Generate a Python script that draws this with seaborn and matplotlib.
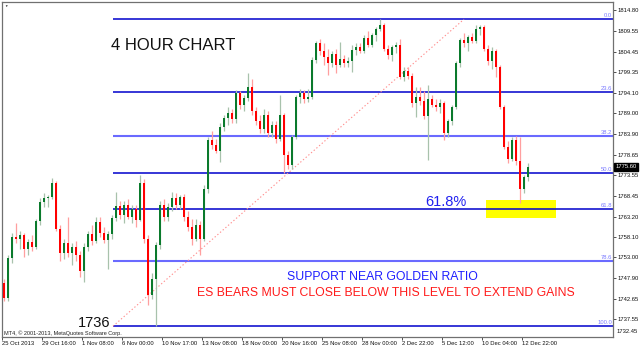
import matplotlib
matplotlib.use("Agg")
import matplotlib.pyplot as plt
import matplotlib.transforms as mtransforms
from matplotlib.patches import Rectangle
import seaborn as sns
import pandas as pd

# ---------------- data ----------------
opens = [1746.5, 1742.8, 1752.8, 1758.2, 1757.5, 1758.5, 1755.2, 1756.8, 1755.5, 1762.0,
         1766.8, 1767.8, 1768.2, 1771.5, 1760.2, 1754.0, 1756.5, 1754.0, 1755.5, 1753.5,
         1749.5, 1755.5, 1758.8, 1757.2, 1761.8, 1759.0, 1757.4, 1758.8, 1762.8, 1765.8,
         1763.5, 1766.2, 1763.2, 1765.0, 1762.4, 1771.6, 1757.6, 1743.6, 1747.5, 1756.0,
         1766.2, 1763.0, 1765.5, 1767.8, 1766.0, 1768.0, 1763.0, 1760.5, 1757.5, 1761.0,
         1757.5, 1770.0, 1782.4, 1781.0, 1779.5, 1785.5, 1787.8, 1789.2, 1787.5, 1794.0,
         1791.0, 1792.8, 1795.6, 1789.5, 1787.0, 1785.0, 1788.5, 1784.0, 1786.0, 1782.5,
         1788.6, 1778.6, 1776.0, 1783.1, 1793.0, 1794.2, 1792.5, 1793.0, 1802.4, 1806.6,
         1804.5, 1803.0, 1801.5, 1803.8, 1801.2, 1802.5, 1801.5, 1802.2, 1804.8, 1805.6,
         1804.5, 1807.8, 1806.2, 1808.5, 1810.0, 1811.0, 1805.0, 1803.5, 1805.5, 1806.2,
         1798.1, 1799.6, 1798.3, 1791.6, 1793.0, 1792.0, 1788.3, 1792.5, 1791.0, 1790.5,
         1791.5, 1784.1, 1787.0, 1790.6, 1801.6, 1807.4, 1806.5, 1808.0, 1807.2, 1810.2,
         1810.6, 1805.0, 1802.0, 1804.5, 1800.6, 1790.6, 1780.6, 1777.5, 1782.4, 1777.0,
         1770.0, 1773.0]
highs = [1747.5, 1753.5, 1759.0, 1761.6, 1759.5, 1759.0, 1757.5, 1758.5, 1762.5, 1767.8,
         1769.0, 1768.5, 1772.8, 1772.0, 1761.0, 1757.5, 1763.0, 1756.5, 1757.0, 1754.5,
         1756.5, 1759.5, 1761.0, 1763.0, 1763.0, 1760.5, 1759.5, 1763.5, 1769.4, 1767.0,
         1767.0, 1767.5, 1766.0, 1766.0, 1773.6, 1772.5, 1758.5, 1749.0, 1756.8, 1767.0,
         1767.5, 1766.5, 1769.4, 1769.0, 1768.5, 1768.8, 1764.5, 1762.5, 1762.5, 1762.0,
         1771.0, 1783.0, 1784.5, 1782.5, 1786.5, 1788.5, 1790.5, 1790.0, 1794.9, 1794.5,
         1793.5, 1799.1, 1797.5, 1790.5, 1788.5, 1790.0, 1789.5, 1787.0, 1787.0, 1793.6,
         1789.0, 1779.5, 1783.5, 1793.5, 1795.0, 1794.8, 1795.0, 1803.0, 1807.2, 1807.5,
         1806.5, 1805.0, 1804.5, 1805.0, 1806.9, 1803.5, 1803.0, 1806.0, 1806.5, 1806.5,
         1808.5, 1809.5, 1809.0, 1810.5, 1812.5, 1811.5, 1806.0, 1806.0, 1806.8, 1807.5,
         1800.5, 1800.5, 1799.0, 1795.6, 1795.5, 1794.5, 1796.0, 1793.5, 1792.5, 1792.5,
         1792.0, 1787.5, 1791.0, 1802.0, 1807.8, 1809.0, 1808.5, 1809.0, 1811.1, 1811.0,
         1811.0, 1806.0, 1805.5, 1805.0, 1801.0, 1791.0, 1782.0, 1783.0, 1783.4, 1783.0,
         1773.5, 1776.5]
lows = [1742.0, 1742.0, 1751.5, 1756.5, 1755.0, 1753.0, 1753.5, 1754.5, 1755.0, 1761.0,
        1765.5, 1765.5, 1767.5, 1759.5, 1752.0, 1752.5, 1753.0, 1751.0, 1752.0, 1748.0,
        1746.9, 1754.5, 1756.0, 1756.5, 1758.0, 1756.5, 1750.0, 1757.5, 1762.0, 1762.5,
        1761.5, 1762.5, 1761.5, 1760.5, 1762.0, 1756.5, 1741.0, 1742.5, 1735.8, 1755.0,
        1762.0, 1762.0, 1764.5, 1765.0, 1765.0, 1762.0, 1759.5, 1756.0, 1757.0, 1753.6,
        1757.0, 1769.0, 1780.0, 1779.0, 1776.9, 1784.5, 1786.0, 1786.5, 1786.5, 1790.0,
        1789.5, 1792.0, 1788.5, 1786.0, 1784.0, 1784.0, 1783.0, 1783.0, 1781.5, 1782.0,
        1774.1, 1775.0, 1775.0, 1782.5, 1791.5, 1791.5, 1791.8, 1792.5, 1801.5, 1803.5,
        1801.0, 1798.6, 1800.5, 1799.0, 1800.5, 1800.5, 1800.5, 1799.3, 1803.5, 1804.0,
        1804.0, 1805.5, 1805.5, 1807.0, 1809.5, 1804.5, 1802.5, 1802.0, 1804.0, 1797.5,
        1797.0, 1797.5, 1790.5, 1788.0, 1791.0, 1787.5, 1777.4, 1790.5, 1789.5, 1789.0,
        1782.4, 1783.0, 1786.0, 1790.0, 1800.5, 1805.5, 1804.5, 1806.5, 1806.5, 1808.5,
        1804.5, 1801.0, 1800.0, 1798.0, 1790.0, 1780.0, 1776.5, 1777.0, 1776.0, 1766.6,
        1769.0, 1772.0]
closes = [1742.8, 1752.8, 1758.2, 1757.5, 1758.5, 1755.2, 1756.8, 1755.5, 1762.0, 1766.8,
          1767.8, 1768.2, 1771.5, 1760.2, 1754.0, 1756.5, 1754.0, 1755.5, 1753.5, 1749.5,
          1755.5, 1758.8, 1757.2, 1761.8, 1759.0, 1757.4, 1758.8, 1762.8, 1765.8, 1763.5,
          1766.2, 1763.2, 1765.0, 1762.4, 1771.6, 1757.6, 1743.6, 1747.5, 1756.0, 1766.2,
          1763.0, 1765.5, 1767.8, 1766.0, 1768.0, 1763.0, 1760.5, 1757.5, 1761.0, 1757.5,
          1770.0, 1782.4, 1781.0, 1779.5, 1785.5, 1787.8, 1789.2, 1787.5, 1794.0, 1791.0,
          1792.8, 1795.6, 1789.5, 1787.0, 1785.0, 1788.5, 1784.0, 1786.0, 1782.5, 1788.6,
          1778.6, 1776.0, 1783.1, 1793.0, 1794.2, 1792.5, 1793.0, 1802.4, 1806.6, 1804.5,
          1803.0, 1801.5, 1803.8, 1801.2, 1802.5, 1801.5, 1802.2, 1804.8, 1805.6, 1804.5,
          1807.8, 1806.2, 1808.5, 1810.0, 1811.0, 1805.0, 1803.5, 1805.5, 1806.2, 1798.1,
          1799.6, 1798.3, 1791.6, 1793.0, 1792.0, 1788.3, 1792.5, 1791.0, 1790.5, 1791.5,
          1784.1, 1787.0, 1790.6, 1801.6, 1807.4, 1806.5, 1808.0, 1807.2, 1810.2, 1810.6,
          1805.0, 1802.0, 1804.5, 1800.6, 1790.6, 1780.6, 1777.5, 1782.4, 1777.0, 1770.0,
          1773.0, 1775.6]

x_tick_labels = ["25 Oct 2013", "29 Oct 16:00", "1 Nov 08:00", "6 Nov 00:00",
                 "10 Nov 17:00", "13 Nov 08:00", "18 Nov 00:00", "20 Nov 16:00",
                 "25 Nov 08:00", "28 Nov 00:00", "2 Dec 22:00", "5 Dec 12:00",
                 "10 Dec 04:00", "12 Dec 22:00"]
y_tick_values = [1814.80, 1809.55, 1804.45, 1799.35, 1794.10, 1789.00, 1783.90,
                 1778.65, 1773.55, 1768.45, 1763.20, 1758.10, 1753.00, 1747.90,
                 1742.65, 1737.55]
bottom_price_label = "1732.45"

fib_high = 1812.55
fib_low = 1735.8
fib_ratios = [0.0, 23.6, 38.2, 50.0, 61.8, 78.6, 100.0]
last_price = 1775.60

# ---------------- style ----------------
sns.set_theme(style="white")
plt.rcParams["font.family"] = ["Liberation Sans", "DejaVu Sans"]

df = pd.DataFrame({"open": opens, "high": highs, "low": lows, "close": closes})
df["i"] = range(len(df))
df["up"] = df["close"] >= df["open"]

fig = plt.figure(figsize=(6.4, 3.56), dpi=100)
ax = fig.add_axes([2 / 640, 19 / 356, 611 / 640, 335 / 356])
ax.set_facecolor("white")

x0, x1 = -0.5, 152.25
y0, y1 = 1733.1, 1816.85
ax.set_xlim(x0, x1)
ax.set_ylim(y0, y1)

# yellow highlight box (under everything else)
ax.add_patch(Rectangle((120.5, 1762.9), 17.5, 4.5, facecolor="#ffff00",
                       edgecolor="none", zorder=1))

# fibonacci levels
fib_x_start = 27.25
for r in fib_ratios:
    lvl = fib_high - (fib_high - fib_low) * r / 100.0
    light = r in (38.2, 78.6)
    ax.hlines(lvl, fib_x_start, x1, colors="#6a6aff" if light else "#0000cc",
              lw=1.5 if light else 1.1, zorder=2)
    ax.text(x1 - 0.3, lvl + 0.25, f"{r:.1f}", ha="right", va="bottom",
            fontsize=4.2, color="#7b7bff", zorder=5)

# fibonacci trend line (dotted)
trend = pd.DataFrame({"x": [27.25, 115.0], "y": [fib_low, fib_high]})
sns.lineplot(data=trend, x="x", y="y", ax=ax, color="#ff8f8f", lw=0.8,
             linestyle=(0, (1.2, 2.0)), zorder=2)

# candles
wick_colors = ["#a8c2ac" if u else "#ff9f9f" for u in df["up"]]
ax.vlines(df["i"], df["low"], df["high"], colors=wick_colors, lw=0.9, zorder=3)
body_bottom = df[["open", "close"]].min(axis=1)
body_height = (df["close"] - df["open"]).abs().clip(lower=0.35)
body_colors = ["#0a7a2c" if u else "#ff0000" for u in df["up"]]
ax.bar(df["i"], body_height, bottom=body_bottom, width=0.55, color=body_colors,
       edgecolor="none", zorder=4)

# annotations
ax.text(26.75, 1806.1, "4 HOUR CHART", fontsize=12, color="#111111",
        ha="left", va="center", zorder=6)
ax.text(26.5, 1736.7, "1736", fontsize=10.5, color="#111111",
        ha="right", va="center", zorder=6)
ax.text(110.5, 1766.9, "61.8%", fontsize=10.5, color="#2020f0",
        ha="center", va="center", zorder=6)
ax.text(94.6, 1748.1, "SUPPORT NEAR GOLDEN RATIO", fontsize=8.8, color="#1e1eff",
        ha="center", va="center", zorder=6)
ax.text(95.4, 1744.2, "ES BEARS MUST CLOSE BELOW THIS LEVEL TO EXTEND GAINS",
        fontsize=8.8, color="#ff1a1a", ha="center", va="center", zorder=6)
ax.text(0.004, 0.002, "MT4, \u00a9 2001-2013, MetaQuotes Software Corp.",
        transform=ax.transAxes, fontsize=4, color="#222222", ha="left", va="bottom")
ax.text(0.004, 0.995, "\u25bc", transform=ax.transAxes, fontsize=2.5,
        color="#222222", ha="left", va="top")

# axes / ticks
for s in ax.spines.values():
    s.set_color("#707070")
    s.set_linewidth(0.9)
ax.yaxis.tick_right()
ax.set_yticks(y_tick_values)
ax.set_yticklabels([f"{v:.2f}" for v in y_tick_values])
ax.set_xticks([10 * k - 0.5 for k in range(len(x_tick_labels))])
ax.set_xticklabels(x_tick_labels, ha="left")
ax.tick_params(axis="both", which="both", length=2, width=0.6, color="#333333",
               labelsize=4.2, labelcolor="#111111", pad=1.2,
               bottom=True, right=True, left=False, top=False)
ax.set_xlabel("")
ax.set_ylabel("")

# bottom price label and current price box
blend = mtransforms.blended_transform_factory(ax.transAxes, ax.transData)
ax.text(1.006, 0.008, bottom_price_label, transform=ax.transAxes, fontsize=4.2,
        color="#111111", ha="left", va="bottom")
ax.text(1.004, last_price, f"{last_price:.2f}", transform=blend, fontsize=4.2,
        color="white", ha="left", va="center",
        bbox=dict(boxstyle="square,pad=0.25", facecolor="black", edgecolor="black"))

fig.savefig("out.png", dpi=100, facecolor="white")
